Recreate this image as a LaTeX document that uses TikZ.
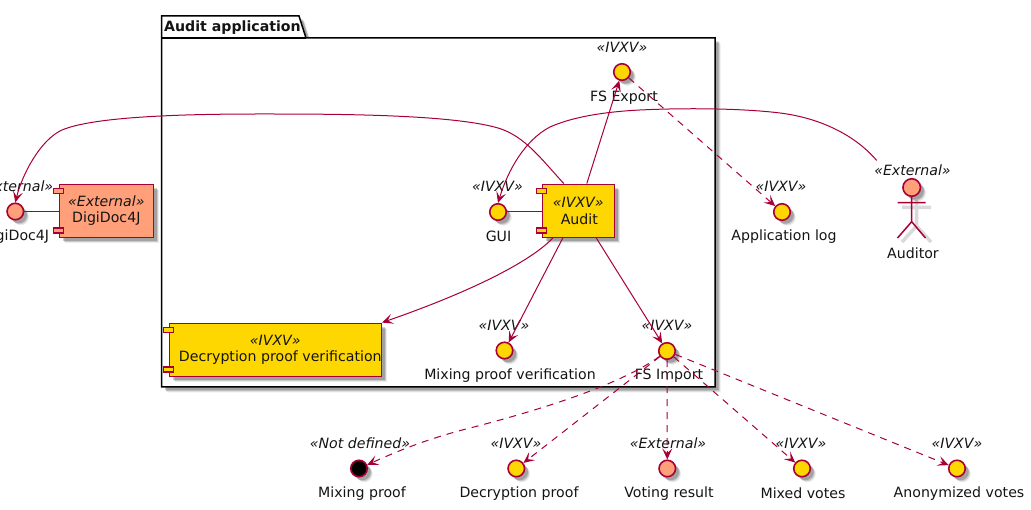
\documentclass[tikz,border=0pt]{standalone}
\usepackage{fontspec}
\setmainfont{DejaVu Sans}
\usetikzlibrary{arrows.meta,shadows}
\definecolor{umlline}{HTML}{A80036}
\definecolor{ivxvfill}{HTML}{FFD700}
\definecolor{extfill}{HTML}{FFA07A}
\newcommand{\stereo}[1]{\textit{«#1»}}
\tikzset{
  softshadow/.style={
    general shadow={shadow xshift=5.5pt,shadow yshift=-5.5pt,fill=black,opacity=.08},
    general shadow={shadow xshift=4.5pt,shadow yshift=-4.5pt,fill=black,opacity=.14},
    general shadow={shadow xshift=3.5pt,shadow yshift=-3.5pt,fill=black,opacity=.2}},
  txt/.style={font=\fontsize{14.15}{16.3}\selectfont,inner sep=0pt,text=black!92,align=center,yshift=-1pt},
  stxt/.style={txt,yshift=.5pt},
  iface/.style={circle,draw=umlline,line width=1.6pt,minimum size=16.5pt,inner sep=0pt,softshadow},
  comp/.style={rectangle,draw=umlline,line width=1.5pt,inner sep=0pt,softshadow,
    font=\fontsize{14.15}{16.3}\selectfont,align=center,text=black!92},
  port/.style={draw=umlline,line width=1.2pt,minimum width=10.4pt,minimum height=5pt,inner sep=0pt,rectangle},
  flow/.style={draw=umlline,line width=1pt,-{Stealth[length=11pt,width=10pt,inset=5pt]}},
  plain/.style={draw=umlline,line width=1pt},
  dep/.style={flow,dash pattern=on 7pt off 6pt},
  pack/.style={draw=black,line width=1.5pt,fill=white,softshadow},
  actorline/.style={draw=umlline,line width=1.5pt},
  actorshade/.style={draw=black!15,line width=3.5pt},
}
\begin{document}
\begin{tikzpicture}[x=1pt,y=-1pt]
\useasboundingbox (0,0) rectangle (1031,510);
% package
\path[pack] (161.5,38) -- (161.5,16) -- (299,16) -- (306,38) -- (715,38) -- (715,387) -- (161.5,387) -- cycle;
\draw[black,line width=1.5pt] (161.5,38) -- (306,38);
\node[txt,font=\fontsize{14.15}{16.3}\selectfont\bfseries,anchor=west] (pkgtitle) at (164,26.5) {Audit application};
% components
\node[comp,fill=ivxvfill,minimum width=72pt,minimum height=53pt] (audit) at (578.3,210.8) {\stereo{IVXV}\\\hspace*{2pt}Audit};
\node[comp,fill=extfill,minimum width=94pt,minimum height=53pt] (digidoc) at (106.3,210.8) {\stereo{External}\\DigiDoc4J};
\node[comp,fill=ivxvfill,minimum width=212pt,minimum height=53pt] (decver) at (275.3,349.8) {\stereo{IVXV}\\\makebox[0pt][c]{\hspace*{10pt}Decryption proof verification}};
\foreach \c/\f in {audit/ivxvfill,digidoc/extfill,decver/ivxvfill}{
  \node[port,fill=\f] (\c p1) at ([yshift=-7.5pt]\c.north west) {};
  \node[port,fill=\f] (\c p2) at ([yshift=7.5pt]\c.south west) {};
}
% interfaces
\node[iface,fill=ivxvfill] (fsexport) at (622,72) {};
\node[iface,fill=ivxvfill] (gui) at (498,212) {};
\node[iface,fill=extfill] (ddiface) at (15.3,211.5) {};
\node[iface,fill=ivxvfill] (applog) at (782,212) {};
\node[iface,fill=ivxvfill] (fsimport) at (667,351) {};
\node[iface,fill=ivxvfill] (mixver) at (504.5,350.5) {};
\node[iface,fill=black] (mixproof) at (359,468.5) {};
\node[iface,fill=ivxvfill] (decproof) at (516.3,468.5) {};
\node[iface,fill=extfill] (votres) at (667.3,468.5) {};
\node[iface,fill=ivxvfill] (mixvotes) at (802,468.5) {};
\node[iface,fill=ivxvfill] (anonvotes) at (957,468.5) {};
% interface texts
\node[stxt] (s1) at (622,47) {\stereo{IVXV}};
\node[txt] (l1) at (624,97) {FS Export};
\node[stxt] (s2) at (497.5,186) {\stereo{IVXV}};
\node[txt] (l2) at (498.5,235) {GUI};
\node[stxt] (s3) at (15,186) {\stereo{External}};
\node[txt] (l3) at (15,235.5) {DigiDoc4J};
\node[stxt] (s4) at (781,186) {\stereo{IVXV}};
\node[txt] (l4) at (784,236) {Application log};
\node[stxt] (s5) at (667,325) {\stereo{IVXV}};
\node[txt] (l5) at (669,375) {FS Import};
\node[stxt] (s6) at (504,325) {\stereo{IVXV}};
\node[txt] (l6) at (510,375) {Mixing proof verification};
\node[stxt] (s7) at (360,443) {\stereo{Not defined}};
\node[txt] (l7) at (362,492.5) {Mixing proof};
\node[stxt] (s8) at (516,443) {\stereo{IVXV}};
\node[txt] (l8) at (519,492.5) {Decryption proof};
\node[stxt] (s9) at (668,443) {\stereo{External}};
\node[txt] (l9) at (669,492.5) {Voting result};
\node[stxt] (s10) at (801,443) {\stereo{IVXV}};
\node[txt] (l10) at (803,492.5) {Mixed votes};
\node[stxt] (s11) at (957,443) {\stereo{IVXV}};
\node[txt] (l11) at (959,492.5) {Anonymized votes};
% actor
\node[stxt] (s12) at (912.5,170) {\stereo{External}};
\node[txt] (l12) at (913,252) {Auditor};
\draw[actorshade] (902,207.5) -- (931,207.5) (916.5,200) -- (916.5,226) -- (902,242) (916.5,226) -- (931,242);
\node[iface,fill=extfill,minimum size=17.5pt] (auditor) at (911.7,187.5) {};
\draw[actorline] (auditor.south) -- (911.7,221.7) -- (897.5,238) (911.7,221.7) -- (925.5,238) (897.5,202.7) -- (925.5,202.7);
% connectors
\draw[plain] (gui) -- (audit.west |- gui);
\draw[plain] (ddiface) -- (digidoc.west |- ddiface);
\draw[flow] ([xshift=8.5pt]audit.north) -- (fsexport);
\draw[dep] (fsexport) -- (applog);
\draw[flow] ([xshift=-14.5pt]audit.north) .. controls (542,160) and (525,136) .. (498,128)
  .. controls (450,114) and (330,114) .. (260,114)
  .. controls (190,114) and (95,116) .. (62,130)
  .. controls (40,140) and (22,175) .. (ddiface.north);
\draw[flow] ([shift={(-35,-27)}]auditor.center) .. controls (855,135) and (820,118) .. (780,113)
  .. controls (740,108) and (680,108) .. (640,110)
  .. controls (600,112) and (570,118) .. (550,127)
  .. controls (525,140) and (508,170) .. (gui.north);
\draw[flow] ([xshift=-25.5pt]audit.south) .. controls (530,262) and (470,292) .. (decver.north east);
\draw[flow] ([xshift=-15.5pt]audit.south) -- (mixver);
\draw[flow] ([xshift=18pt]audit.south) -- (fsimport);
\draw[dep] (fsimport) .. controls (620,385) and (540,410) .. (470,428) .. controls (430,438) and (400,450) .. (mixproof);
\draw[dep] (fsimport) -- (decproof);
\draw[dep] (fsimport) -- (votres);
\draw[dep] (fsimport) -- (mixvotes);
\draw[dep] (fsimport) -- (anonvotes);
\end{tikzpicture}
\end{document}
